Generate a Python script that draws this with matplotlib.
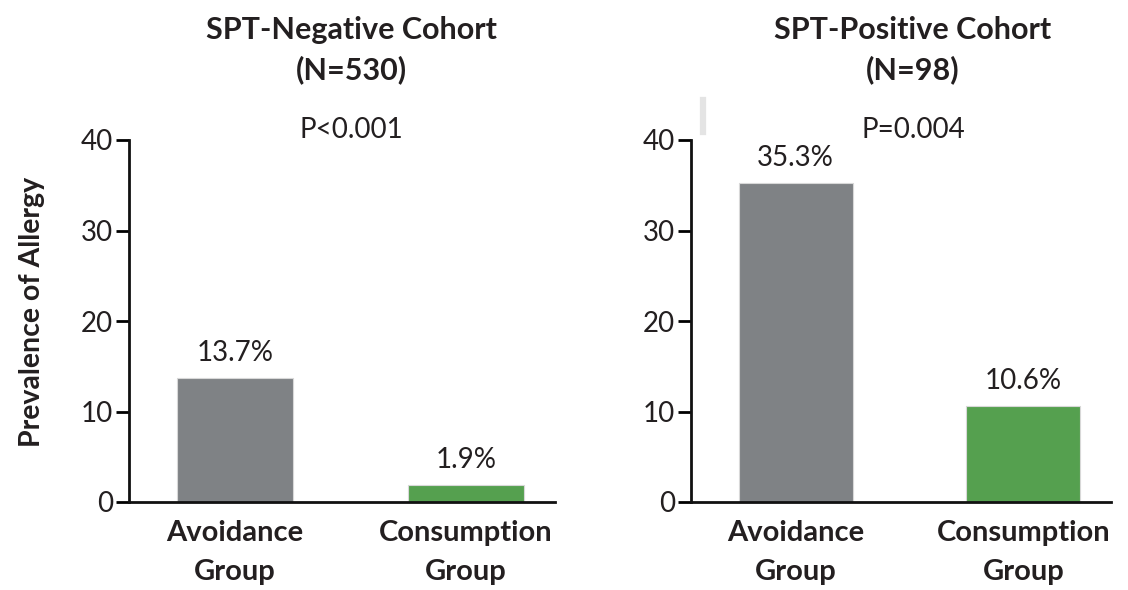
import matplotlib
matplotlib.use('Agg')
import matplotlib.pyplot as plt

groups = ['Avoidance\nGroup', 'Consumption\nGroup']
cohort_names = ['SPT-Negative Cohort', 'SPT-Positive Cohort']
cohort_sizes = ['(N=530)', '(N=98)']
p_values = ['P<0.001', 'P=0.004']
prevalence = [[13.7, 1.9], [35.3, 10.6]]
bar_colors = ['#7f8285', '#55a04f']
yticks = [0, 10, 20, 30, 40]

plt.rcParams['font.family'] = ['Lato', 'DejaVu Sans']
text_color = '#231f20'

fig = plt.figure(figsize=(11.28, 5.9), dpi=100)
ax_rects = [
    [129 / 1128, 88 / 590, 426 / 1128, 362 / 590],
    [691 / 1128, 88 / 590, 420 / 1128, 362 / 590],
]
title_x = [351 / 1128, 913 / 1128]

for i, rect in enumerate(ax_rects):
    ax = fig.add_axes(rect)
    vals = prevalence[i]
    ax.bar([0, 1], vals, width=0.5, color=bar_colors, edgecolor='#d8d8d8',
           linewidth=0.8, zorder=2)
    for x, v in zip([0, 1], vals):
        ax.annotate(f'{v:.1f}%', (x, v), xytext=(0, 18), textcoords='offset points',
                    ha='center', va='center', fontsize=20, color=text_color)
    ax.set_xlim(-0.46, 1.385)
    ax.set_ylim(0, 40)
    ax.set_yticks(yticks)
    ax.set_xticks([0, 1])
    ax.set_xticklabels(groups, fontsize=21, fontweight='bold', color=text_color,
                       linespacing=1.6)
    ax.tick_params(axis='x', length=0, pad=13)
    ax.tick_params(axis='y', direction='out', length=9.5, width=2,
                   labelsize=20, labelcolor=text_color, pad=2)
    for s in ['top', 'right']:
        ax.spines[s].set_visible(False)
    for s in ['left', 'bottom']:
        ax.spines[s].set_linewidth(2)
        ax.spines[s].set_color('#111111')
    fig.text(title_x[i], 1 - 130 / 590, p_values[i], ha='center', va='center',
             fontsize=20, color=text_color)
    fig.text(title_x[i], 1 - 30 / 590, cohort_names[i], ha='center', va='center',
             fontsize=22, fontweight='bold', color=text_color)
    fig.text(title_x[i], 1 - 70 / 590, cohort_sizes[i], ha='center', va='center',
             fontsize=22, fontweight='bold', color=text_color)

fig.text(32 / 1128, 1 - 312 / 590, 'Prevalence of Allergy', rotation=90,
         ha='center', va='center', fontsize=20.5, fontweight='bold',
         color=text_color)

# faint scanner artifact near the right panel
fig.add_artist(plt.Line2D([703 / 1128, 703 / 1128], [1 - 100 / 590, 1 - 132 / 590],
                          color='#e4e4e4', linewidth=4.5))

fig.savefig('out.png', dpi=100, facecolor='white')
